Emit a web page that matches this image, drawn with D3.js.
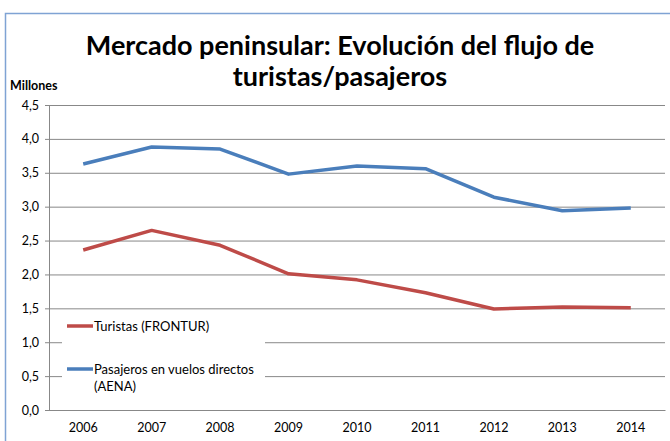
<!DOCTYPE html>
<html>
<head>
<meta charset="utf-8">
<script src="https://cdn.jsdelivr.net/npm/d3@7"></script>
<style>
  body { margin: 0; background: #fff; }
  text { font-family: Lato, "Open Sans", sans-serif; fill: #000; }
</style>
</head>
<body>
<div id="chart"></div>
<script>
var years = ['2006', '2007', '2008', '2009', '2010', '2011', '2012', '2013', '2014']
  , turistas = [2.36, 2.65, 2.43, 2.01, 1.92, 1.73, 1.49, 1.52, 1.51]
  , pasajeros = [3.63, 3.88, 3.85, 3.48, 3.60, 3.56, 3.14, 2.94, 2.98]
  , yTicks = [0, 0.5, 1, 1.5, 2, 2.5, 3, 3.5, 4, 4.5]
  ;

var w = 670
  , h = 441
  , mLeft = 49
  , mRight = 665
  , mTop = 105
  , mBottom = 410
  ;

var svg = d3.select('#chart').append('svg')
            .attr('width', w).attr('height', h);

// outer frame
svg.append('path')
  .attr('d', 'M5.5,441 L5.5,13.5 L670,13.5')
  .attr('fill', 'none')
  .attr('stroke', '#7fa3d4')
  .attr('stroke-width', 1.5);

var x = d3.scaleBand().domain(years).range([mLeft, mRight])
  , y = d3.scaleLinear().domain([0, 4.5]).range([mBottom, mTop])
  , fmt = function (d) { return d3.format('.1f')(d).replace('.', ','); }
  ;

// gridlines + y axis
var yAxis = svg.append('g')
  .attr('transform', 'translate(' + mLeft + ',0)')
  .call(d3.axisLeft(y).tickValues(yTicks).tickFormat(fmt)
        .tickSize(-(mRight - mLeft)).tickPadding(10));
yAxis.select('.domain').remove();
yAxis.selectAll('line').attr('stroke', '#888').attr('x1', -4);
yAxis.selectAll('text').style('font-size', '12.5px')
  .style('font-family', 'Lato, "Open Sans", sans-serif').attr('fill', '#000');

svg.append('line')
  .attr('x1', mLeft + 0.5).attr('x2', mLeft + 0.5)
  .attr('y1', mTop).attr('y2', mBottom)
  .attr('stroke', '#888');

// x axis
var xAxis = svg.append('g')
  .attr('transform', 'translate(0,' + mBottom + ')')
  .call(d3.axisBottom(x).tickSize(0).tickPadding(13));
xAxis.select('.domain').attr('stroke', '#888');
xAxis.selectAll('text').style('font-size', '12.5px')
  .style('font-family', 'Lato, "Open Sans", sans-serif').attr('fill', '#000');

var line = d3.line()
  .x(function (d, i) { return x(years[i]) + x.bandwidth() / 2; })
  .y(function (d) { return y(d); });

var series = [
  { name: 'Turistas (FRONTUR)', values: turistas, color: '#be4b48' },
  { name: 'Pasajeros en vuelos directos', values: pasajeros, color: '#4a7ebb' }
];

svg.selectAll('path.serie').data(series).enter()
  .append('path')
  .attr('class', 'serie')
  .attr('fill', 'none')
  .attr('stroke', function (d) { return d.color; })
  .attr('stroke-width', 3.5)
  .attr('stroke-linejoin', 'round')
  .attr('d', function (d) { return line(d.values); });

// legend
svg.append('rect')
  .attr('x', 62).attr('y', 314).attr('width', 203).attr('height', 86)
  .attr('fill', '#fff');

var legY = [326, 369];
var leg = svg.selectAll('g.leg').data(series).enter()
  .append('g').attr('class', 'leg')
  .attr('transform', function (d, i) { return 'translate(0,' + legY[i] + ')'; });
leg.append('line')
  .attr('x1', 67).attr('x2', 93)
  .attr('stroke', function (d) { return d.color; })
  .attr('stroke-width', 3.5);
leg.append('text')
  .attr('x', 94).attr('y', 4.5)
  .style('font-size', '13px')
  .text(function (d) { return d.name; });
svg.append('text')
  .attr('x', 94).attr('y', legY[1] + 22)
  .style('font-size', '13px')
  .text('(AENA)');

// titles
svg.append('text')
  .attr('x', 340).attr('y', 55)
  .attr('text-anchor', 'middle')
  .style('font-size', '27px').style('font-weight', 'bold')
  .text('Mercado peninsular: Evolución del flujo de');
svg.append('text')
  .attr('x', 340).attr('y', 86)
  .attr('text-anchor', 'middle')
  .style('font-size', '27px').style('font-weight', 'bold')
  .text('turistas/pasajeros');
svg.append('text')
  .attr('x', 10).attr('y', 90)
  .style('font-size', '12.5px').style('font-weight', 'bold')
  .text('Millones');
</script>
</body>
</html>
